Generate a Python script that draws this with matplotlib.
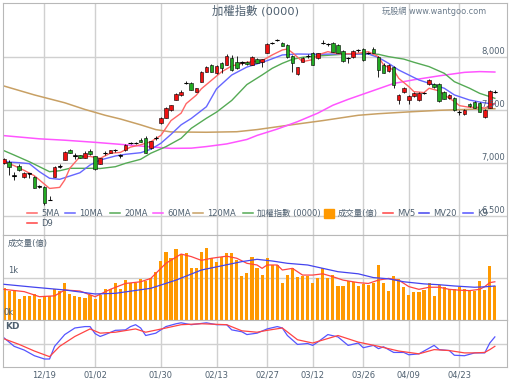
import matplotlib
matplotlib.use("Agg")
import matplotlib.pyplot as plt
from matplotlib.lines import Line2D
from matplotlib.patches import Rectangle

plt.rcParams['font.family'] = ['DejaVu Sans', 'Noto Sans CJK TC']

# ---- data ----
date_labels = ['12/19', '01/02', '01/30', '02/13', '02/27', '03/12', '03/26', '04/09', '04/23']
date_pos = [8, 18, 31, 42, 52, 61, 71, 80, 90]

opens = [7000, 7010, 6885, 6970, 6870, 6900, 6870, 6775, 6775, 6650,
         6870, 6965, 7030, 7125, 7070, 7075, 7050, 7110, 7065, 6995,
         7090, 7095, 7118, 7070, 7120, 7188, 7190, 7215, 7235, 7140,
         7232, 7380, 7425, 7500, 7595, 7640, 7752, 7755, 7670, 7765,
         7860, 7925, 7850, 7945, 7925, 7990, 7950, 7945, 7955, 7925,
         7980, 7955, 8040, 8128, 8158, 8130, 8115, 8010, 7840, 7955,
         8008, 8040, 7990, 8128, 8118, 8130, 8110, 8060, 7988, 8000,
         8063, 8075, 8038, 8075, 8000, 7925, 7868, 7906, 7594, 7670,
         7594, 7632, 7594, 7658, 7745, 7745, 7745, 7670, 7613, 7613,
         7480, 7462, 7555, 7575, 7566, 7434, 7519, 7668]
highs = [7050, 7030, 6915, 6990, 6915, 6910, 6880, 6790, 6780, 6690,
         6975, 6990, 7110, 7130, 7090, 7080, 7110, 7135, 7070, 7050,
         7110, 7125, 7135, 7085, 7175, 7200, 7198, 7240, 7250, 7210,
         7255, 7430, 7525, 7550, 7660, 7690, 7775, 7760, 7710, 7865,
         7915, 7935, 7920, 7955, 8025, 8020, 8010, 7960, 7965, 8005,
         7995, 7985, 8130, 8140, 8170, 8140, 8120, 8015, 7910, 8000,
         8030, 8045, 8040, 8160, 8135, 8140, 8120, 8070, 8000, 8070,
         8075, 8085, 8050, 8090, 8010, 7940, 7930, 7915, 7650, 7715,
         7640, 7665, 7665, 7670, 7790, 7750, 7750, 7680, 7650, 7620,
         7500, 7505, 7565, 7585, 7575, 7505, 7690, 7690]
lows = [6990, 6890, 6840, 6925, 6855, 6855, 6760, 6765, 6600, 6648,
        6865, 6955, 7025, 7090, 7040, 7045, 7045, 7080, 6935, 6990,
        7080, 7090, 7105, 7045, 7115, 7180, 7180, 7195, 7090, 7135,
        7220, 7370, 7420, 7495, 7590, 7635, 7745, 7685, 7665, 7760,
        7855, 7855, 7840, 7850, 7920, 7870, 7890, 7925, 7925, 7920,
        7940, 7910, 8035, 8120, 8150, 8100, 7995, 7860, 7830, 7950,
        7995, 7920, 7985, 8120, 8105, 8045, 8035, 7955, 7945, 7995,
        8050, 7965, 8025, 8035, 7810, 7845, 7860, 7705, 7556, 7660,
        7555, 7625, 7585, 7650, 7740, 7712, 7580, 7600, 7605, 7495,
        7455, 7455, 7530, 7515, 7478, 7425, 7515, 7660]
closes = [7040, 6960, 6880, 6935, 6905, 6905, 6765, 6780, 6620, 6655,
          6960, 6970, 7100, 7095, 7068, 7050, 7090, 7085, 6940, 7045,
          7095, 7120, 7122, 7072, 7170, 7192, 7188, 7200, 7095, 7205,
          7235, 7425, 7520, 7545, 7650, 7670, 7758, 7690, 7705, 7860,
          7905, 7860, 7915, 7895, 8010, 7875, 7895, 7948, 7935, 8000,
          7945, 7980, 8125, 8132, 8160, 8105, 8000, 7945, 7905, 7990,
          8012, 7925, 8035, 8132, 8122, 8050, 8040, 7960, 7992, 8060,
          8066, 7970, 8042, 8040, 7877, 7850, 7925, 7736, 7642, 7708,
          7632, 7660, 7660, 7662, 7783, 7717, 7585, 7604, 7641, 7500,
          7482, 7500, 7540, 7519, 7481, 7500, 7679, 7672]

volume = [770, 700, 710, 500, 570, 570, 610, 490, 570, 570,
          730, 680, 890, 610, 560, 550, 530, 590, 500, 590,
          750, 750, 870, 730, 950, 870, 870, 970, 930, 1010,
          1150, 1410, 1630, 1470, 1680, 1570, 1600, 1230, 1230, 1630,
          1710, 1470, 1390, 1510, 1600, 1600, 1430, 1050, 1120, 1490,
          1230, 1070, 1470, 1310, 1310, 890, 1070, 1230, 1020, 1040,
          1050, 870, 990, 1230, 990, 1070, 820, 820, 940, 910,
          820, 860, 840, 870, 1310, 870, 700, 1050, 970, 780,
          595, 670, 670, 710, 870, 570, 840, 780, 730, 730,
          780, 730, 700, 700, 940, 710, 1290, 820]

# moving average lines, read at sample points
ma5_x = [0, 2, 4, 6, 8, 9, 11, 12, 13, 15, 17, 19, 21, 23, 25, 27, 29, 30, 31, 32, 33,
         35, 36, 38, 39, 41, 43, 45, 48, 51, 53, 55, 56, 57, 59, 61, 62, 64, 66, 68, 70,
         72, 74, 75, 77, 78, 80, 81, 83, 84, 86, 87, 89, 90, 92, 94, 95, 97]
ma5 = [7012, 6975, 6930, 6880, 6800, 6760, 6770, 6840, 6950, 7060, 7062, 7044, 7092,
       7100, 7150, 7172, 7200, 7230, 7260, 7330, 7400, 7470, 7560, 7640, 7700, 7780,
       7860, 7915, 7950, 7965, 8019, 8066, 8075, 8040, 7956, 7975, 8019, 8050, 8030,
       8030, 8035, 8050, 8003, 7925, 7877, 7799, 7720, 7673, 7664, 7705, 7680, 7642,
       7580, 7541, 7525, 7525, 7518, 7563]
ma10_x = [0, 3, 5, 7, 9, 11, 13, 15, 17, 19, 22, 24, 27, 29, 31, 33, 35, 37, 40, 42, 45,
          48, 52, 55, 58, 62, 65, 68, 72, 74, 76, 78, 80, 82, 84, 87, 89, 92, 94, 96, 97]
ma10 = [7012, 7003, 6994, 6918, 6856, 6846, 6877, 6908, 6981, 7028, 7066, 7082, 7097,
        7129, 7186, 7270, 7360, 7420, 7531, 7700, 7830, 7905, 7965, 8019, 8028, 8025,
        8028, 8028, 8028, 7995, 7940, 7877, 7830, 7783, 7752, 7705, 7642, 7594, 7575,
        7560, 7557]
ma20_x = [0, 2, 5, 7, 9, 11, 13, 15, 18, 19, 22, 24, 27, 29, 32, 35, 37, 40, 42, 45,
          48, 51, 53, 55, 57, 59, 62, 65, 68, 72, 74, 76, 79, 81, 84, 87, 89, 92, 94, 96, 97]
ma20 = [7116, 7075, 7012, 6965, 6918, 6927, 6950, 6950, 6950, 6948, 6965, 6997, 7035,
        7092, 7154, 7233, 7327, 7422, 7480, 7590, 7740, 7830, 7893, 7940, 7978, 7997,
        8009, 8019, 8028, 8030, 8025, 8003, 7980, 7950, 7909, 7846, 7767, 7705, 7657,
        7626, 7610]
ma60_x = [0, 7, 12, 18, 24, 29, 33, 37, 40, 44, 48, 50, 54, 58, 62, 65, 68, 71, 74,
          77, 81, 86, 91, 94, 97]
ma60 = [7258, 7228, 7215, 7195, 7172, 7152, 7138, 7140, 7155, 7180, 7222, 7260, 7320,
        7390, 7470, 7545, 7600, 7650, 7700, 7750, 7785, 7822, 7855, 7862, 7858]
ma120_x = [0, 6, 12, 16, 20, 23, 27, 30, 33, 40, 46, 50, 56, 63, 70, 74, 80, 86, 93, 97]
ma120 = [7726, 7642, 7568, 7505, 7450, 7415, 7360, 7315, 7293, 7290, 7295, 7315, 7355,
         7400, 7450, 7465, 7482, 7497, 7508, 7512]

mv5_x = [0, 4, 7, 10, 12, 15, 18, 21, 24, 27, 29, 32, 35, 37, 39, 41, 44, 46, 48, 50,
         51, 52, 54, 55, 57, 59, 61, 63, 65, 67, 70, 72, 74, 76, 78, 80, 82, 84, 86,
         88, 90, 92, 94, 95, 96, 97]
mv5 = [730, 675, 555, 575, 715, 690, 555, 730, 870, 910, 990, 1350, 1570, 1510, 1420,
       1470, 1520, 1470, 1350, 1310, 1230, 1310, 1310, 1190, 1230, 1070, 1070, 1100,
       1030, 950, 890, 870, 950, 990, 950, 795, 730, 780, 780, 730, 710, 700, 730, 795,
       890, 910]
mv20_x = [0, 6, 12, 18, 22, 29, 34, 39, 43, 47, 50, 53, 56, 60, 63, 66, 70, 73, 76,
          79, 83, 86, 89, 93, 95, 97]
mv20 = [850, 780, 715, 620, 635, 755, 950, 1190, 1290, 1390, 1445, 1405, 1350, 1310,
        1230, 1150, 1100, 1010, 980, 910, 860, 840, 810, 780, 790, 810]

k_x = [0, 2, 4, 6, 8, 9, 10, 12, 14, 16, 17, 18, 19, 20, 22, 24, 25, 26, 27, 28, 30,
       32, 34, 35, 37, 40, 42, 44, 45, 47, 48, 50, 52, 54, 55, 56, 58, 60, 61, 62, 64,
       66, 68, 70, 71, 73, 74, 75, 77, 79, 80, 82, 83, 85, 86, 88, 89, 91, 93, 95, 96, 97]
k_val = [62, 44, 36, 24, 17, 17, 44, 69, 83, 86, 86, 71, 65, 69, 78, 79, 86, 90, 83, 67,
         72, 86, 92, 94, 90, 94, 90, 90, 79, 75, 69, 72, 81, 86, 83, 67, 48, 50, 46, 53,
         69, 64, 46, 51, 41, 46, 39, 43, 31, 31, 26, 28, 34, 46, 37, 35, 25, 24, 30, 30,
         51, 64]
d_x = [0, 3, 6, 9, 11, 14, 17, 19, 22, 26, 28, 32, 35, 39, 44, 47, 50, 52, 55, 58, 61,
       66, 70, 74, 78, 82, 85, 88, 91, 93, 95, 96, 97]
d_val = [60, 48, 34, 22, 44, 65, 81, 72, 74, 81, 74, 83, 90, 92, 90, 77, 74, 78, 83, 58,
         51, 67, 53, 44, 34, 28, 37, 35, 30, 30, 31, 37, 44]

# ---- figure ----
W, H = 512, 383
fig = plt.figure(figsize=(W / 100, H / 100), dpi=100)


def px_axes(x0, y0, x1, y1):
    return fig.add_axes([x0 / W, 1 - y1 / H, (x1 - x0) / W, (y1 - y0) / H])


ax = px_axes(3, 3, 507, 235)
axv = px_axes(3, 235, 507, 320)
axk = px_axes(3, 320, 507, 367)

grid_c = '#d0d0d0'
txt_c = '#4f6070'
xlim = (-0.2, 99.4)

for a in (ax, axv, axk):
    a.set_xlim(*xlim)
    a.set_xticks(date_pos)
    a.tick_params(length=0, labelbottom=False, labelleft=False)
    a.grid(True, color=grid_c, linewidth=1)
    a.set_axisbelow(True)
    for s in a.spines.values():
        s.set_color('#b8b8b8')

# price panel
ax.set_ylim(6321, 8509)
ax.set_yticks([6500, 7000, 7500, 8000])
idx = list(range(len(opens)))
ax.vlines(idx, lows, highs, color='black', linewidth=0.6, zorder=3)
body_bottom = [min(o, c) for o, c in zip(opens, closes)]
body_h = [max(abs(c - o), 4) for o, c in zip(opens, closes)]
body_col = []
for o, c in zip(opens, closes):
    if abs(c - o) < 8:
        body_col.append('black')
    elif c > o:
        body_col.append('#ee1111')
    else:
        body_col.append('#22aa22')
ax.bar(idx, body_h, bottom=body_bottom, width=0.7, color=body_col,
       edgecolor='black', linewidth=0.4, zorder=4)
doji = [i for i, col in zip(idx, body_col) if col == 'black']
ax.hlines([closes[i] for i in doji], [i - 0.4 for i in doji], [i + 0.4 for i in doji],
          color='black', linewidth=0.8, zorder=4)

ax.plot(ma120_x, ma120, color='#c8a064', linewidth=1.1, zorder=2)
ax.plot(ma60_x, ma60, color='#ff55ff', linewidth=1.1, zorder=2)
ax.plot(ma20_x, ma20, color='#55aa55', linewidth=1.0, zorder=2)
ax.plot(ma10_x, ma10, color='#6666ff', linewidth=1.0, zorder=2)
ax.plot(ma5_x, ma5, color='#ff6666', linewidth=1.0, zorder=2)

for lv in [6500, 7000, 7500, 8000]:
    ax.text(0.996, lv + 10, f'{lv:,}', transform=ax.get_yaxis_transform(),
            ha='right', va='bottom', fontsize=6, color=txt_c, zorder=6)

# volume panel
axv.set_ylim(0, 2024)
axv.set_yticks([1000])
axv.bar(idx, volume, width=0.62, color='#ff9900', zorder=2)
axv.plot(mv5_x, mv5, color='#ff4444', linewidth=0.9, zorder=3)
axv.plot(mv20_x, mv20, color='#4444ee', linewidth=0.9, zorder=3)
axv.text(5 / 504, 1000 + 60, '1k', transform=axv.get_yaxis_transform(),
         fontsize=6, color=txt_c, va='bottom')
axv.text(0.0, 60, '0k', transform=axv.get_yaxis_transform(),
         fontsize=6, color=txt_c, va='bottom')
axv.text(5 / 504, 0.9, '成交量(億)', transform=axv.transAxes,
         fontsize=6, color=txt_c, va='center')

# KD panel
axk.set_ylim(0, 100)
axk.set_yticks([50])
axk.plot(k_x, k_val, color='#5555ff', linewidth=0.9)
axk.plot(d_x, d_val, color='#ff4444', linewidth=0.9)
axk.text(2 / 504, 0.86, 'KD', transform=axk.transAxes, fontsize=6.5,
         color=txt_c, va='center', fontweight='bold')
axk.tick_params(labelbottom=True, pad=2.5, labelsize=6, labelcolor=txt_c)
axk.set_xticklabels(date_labels)

# titles
fig.text(256 / W, 1 - 10.5 / H, '加權指數 (0000)', ha='center', va='center',
         fontsize=8.2, color=txt_c)
fig.text(486 / W, 1 - 11.5 / H, '玩股網 www.wantgoo.com', ha='right', va='center',
         fontsize=5.9, color='#6a7a8a')

# legend
legend_row1 = [('5MA', '#ff6666', 27), ('10MA', '#6666ff', 65), ('20MA', '#55aa55', 110),
               ('60MA', '#ff55ff', 153), ('120MA', '#c8a064', 193),
               ('加權指數 (0000)', '#55aa55', 243), ('成交量(億)', 'patch', 324),
               ('MV5', '#ff4444', 383), ('MV20', '#4444ee', 419), ('K9', '#5555ff', 463)]
legend_row2 = [('D9', '#ff4444', 27)]
for row, yy in ((legend_row1, 213), (legend_row2, 223)):
    for label, col, x0 in row:
        yf = 1 - yy / H
        if col == 'patch':
            fig.add_artist(Rectangle((x0 / W, 1 - (yy + 4.5) / H), 10 / W, 9 / H,
                                     color='#ff9900', transform=fig.transFigure))
        else:
            fig.add_artist(Line2D([x0 / W, (x0 + 10) / W], [yf, yf], color=col,
                                  linewidth=1.1, transform=fig.transFigure))
        fig.text((x0 + 14) / W, yf, label, ha='left', va='center', fontsize=6,
                 color=txt_c)

fig.savefig('out.png', dpi=100)
